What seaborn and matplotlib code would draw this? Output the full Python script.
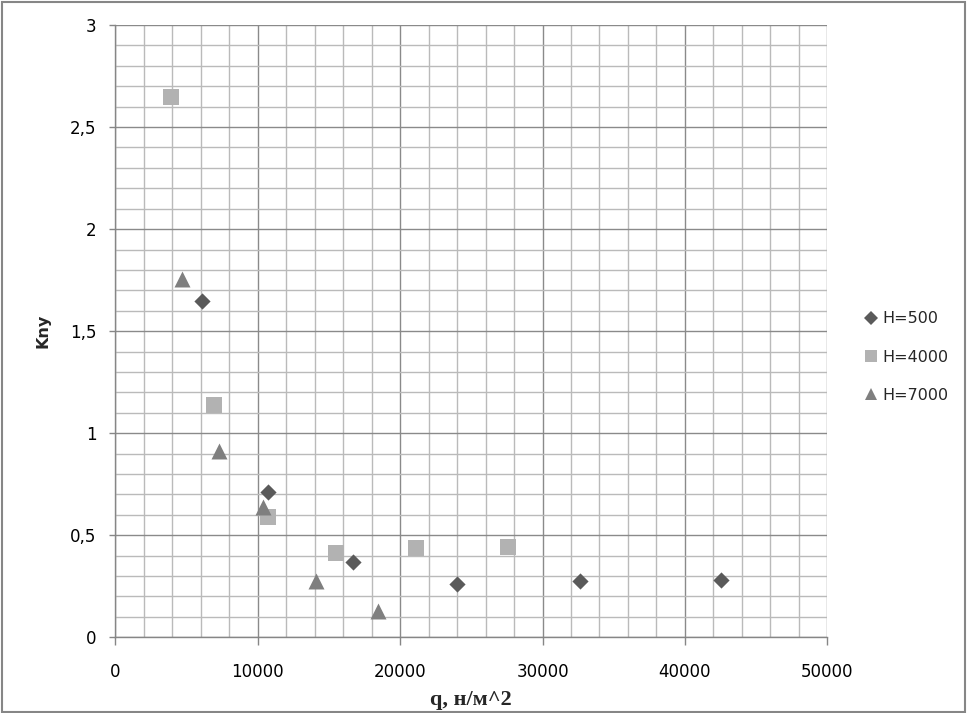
import numpy as np
import pandas as pd
import seaborn as sns
import matplotlib.pyplot as plt
from matplotlib.lines import Line2D
from matplotlib.patches import Rectangle
from matplotlib.ticker import MultipleLocator, FuncFormatter

# H=500
q_500 = [6060, 10700, 16670, 23970, 32640, 42570]
k_500 = [1.65, 0.71, 0.37, 0.26, 0.276, 0.28]
# H=4000
q_4000 = [3900, 6900, 10750, 15500, 21100, 27550]
k_4000 = [2.648, 1.138, 0.588, 0.415, 0.436, 0.442]
# H=7000
q_7000 = [4670, 7260, 10350, 14080, 18420]
k_7000 = [1.755, 0.913, 0.636, 0.276, 0.128]

series = ['H=500', 'H=4000', 'H=7000']
colors = {'H=500': '#5a5a5a', 'H=4000': '#b2b2b2', 'H=7000': '#7f7f7f'}
markers = {'H=500': 'D', 'H=4000': 's', 'H=7000': '^'}
sizes = {'H=500': 68, 'H=4000': 117, 'H=7000': 132}

df = pd.concat([
    pd.DataFrame({'q': q_500, 'k': k_500, 'H': 'H=500'}),
    pd.DataFrame({'q': q_4000, 'k': k_4000, 'H': 'H=4000'}),
    pd.DataFrame({'q': q_7000, 'k': k_7000, 'H': 'H=7000'}),
], ignore_index=True)

sns.set_theme(style="white")
plt.rcParams['font.family'] = ['DejaVu Sans']

fig = plt.figure(figsize=(9.69, 7.13), dpi=100)
ax = fig.add_axes([115.3 / 969, 1 - 637.3 / 713, (827.3 - 115.3) / 969, (637.3 - 25) / 713])

for name in series:
    sub = df[df['H'] == name]
    sns.scatterplot(data=sub, x='q', y='k', marker=markers[name], color=colors[name],
                    s=sizes[name], linewidth=0, ax=ax, legend=False, zorder=3)

ax.set_xlim(0, 50000)
ax.set_ylim(0, 3)
ax.xaxis.set_major_locator(MultipleLocator(10000))
ax.xaxis.set_minor_locator(MultipleLocator(2000))
ax.yaxis.set_major_locator(MultipleLocator(0.5))
ax.yaxis.set_minor_locator(MultipleLocator(0.1))
ax.yaxis.set_major_formatter(FuncFormatter(lambda v, p: ('%g' % v).replace('.', ',')))
ax.xaxis.set_major_formatter(FuncFormatter(lambda v, p: '%d' % v))

ax.grid(which='minor', color='#bababa', linewidth=1)
ax.grid(which='major', color='#8a8a8a', linewidth=1)
ax.set_axisbelow(True)
for side in ['top', 'right']:
    ax.spines[side].set_visible(False)
for side in ['left', 'bottom']:
    ax.spines[side].set_color('#868686')
    ax.spines[side].set_linewidth(1)

ax.tick_params(axis='y', which='major', direction='out', length=4.3, width=1, color='#868686',
               pad=9.4, labelsize=12, labelcolor='black', left=True)
ax.tick_params(axis='x', which='major', direction='out', length=5.8, width=1, color='#868686',
               pad=13.0, labelsize=12, labelcolor='black', bottom=True)
ax.tick_params(which='minor', length=0)

ax.set_xlabel('')
ax.set_ylabel('')
fig.text(471 / 969, 1 - 700 / 713, 'q, н/м^2', ha='center', va='center',
         fontsize=16, fontweight='bold', family=['Liberation Serif', 'DejaVu Serif'])
fig.text(43 / 969, 1 - 331 / 713, 'Kny', ha='center', va='center', rotation=90,
         fontsize=11.5, fontweight='bold')

handles = [Line2D([], [], linestyle='none', marker=markers[n], color=colors[n],
                  markeredgewidth=0, markersize=np.sqrt(sizes[n]) * (0.75 if n != 'H=500' else 0.85))
           for n in series]
fig.legend(handles, series, loc='center left', bbox_to_anchor=(857 / 969, 1 - 357 / 713),
           frameon=False, fontsize=11.5, labelspacing=1.45, handlelength=0.8,
           handletextpad=0.3, borderpad=0)

fig.patches.append(Rectangle((1.5 / 969, 1.5 / 713), 963 / 969, 710 / 713, transform=fig.transFigure,
                             fill=False, edgecolor='#868686', linewidth=1.5))

fig.savefig('out.png', dpi=100)
